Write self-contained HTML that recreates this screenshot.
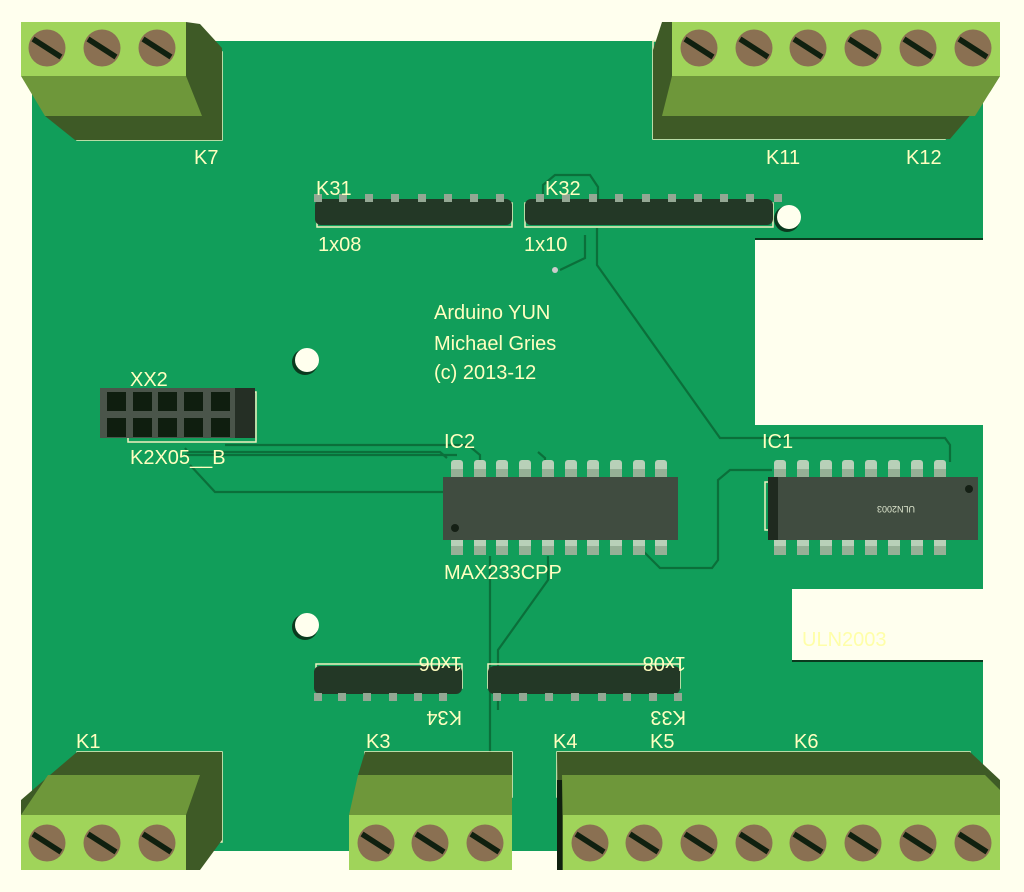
<!DOCTYPE html>
<html><head><meta charset="utf-8"><style>
html,body{margin:0;padding:0;background:#FFFFEE;}
svg{display:block}
text{font-family:"Liberation Sans",sans-serif;fill:#FFFFC0;font-size:20px}
</style></head><body>
<svg width="1024" height="892" viewBox="0 0 1024 892" xmlns="http://www.w3.org/2000/svg">
<defs>
<g id="sc"><circle r="18.5" fill="#8A7052"/><line x1="-14" y1="-9" x2="14" y2="9" stroke="#10200F" stroke-width="5.5"/></g>
<g id="pin"><rect x="-4" y="-4" width="8" height="8" fill="#94A894"/></g>
<g id="icp"><rect x="-6" y="0" width="12" height="18" rx="3" fill="#B8D0B8"/><rect x="-6" y="9" width="12" height="9" fill="#96B096"/></g>
</defs>
<rect width="1024" height="892" fill="#FFFFEE"/>
<path d="M32 41 H983 V238 H755 V425 H983 V589 H792 V661 H983 V851 H32 Z" fill="#119E5A"/>
<line x1="755" y1="239" x2="983" y2="239" stroke="#0A3A1E" stroke-width="2"/>
<line x1="792" y1="661" x2="983" y2="661" stroke="#0A3A1E" stroke-width="2"/>
<g fill="none" stroke="#0B6F3A" stroke-width="2.2">
<path d="M560 270 L585 258 L585 235"/>
<path d="M597 228 L597 265 L720 438 L945 438 L950 445 L950 462"/>
<path d="M543 200 L543 185 L555 175 L590 175 L598 187 L598 200"/>
<path d="M225 445 L468 445 L480 455 L480 462"/>
<path d="M185 455 L457 455"/>
<path d="M190 465 L215 492 L443 492"/>
<path d="M185 448 L188 452 L440 452 L447 458"/>
<path d="M642 550 L660 568 L712 568 L718 560 L718 480 L730 470 L772 470"/>
<path d="M490 556 L490 752"/>
<path d="M498 710 L498 650 L548 580 L548 556"/>
<path d="M538 452 L545 458 L545 462"/>
</g>
<circle cx="787" cy="219" r="13" fill="#0A3A1E"/><circle cx="789" cy="217" r="12" fill="#FFFFEE"/>
<circle cx="305" cy="362" r="13" fill="#0A3A1E"/><circle cx="307" cy="360" r="12" fill="#FFFFEE"/>
<circle cx="305" cy="627" r="13" fill="#0A3A1E"/><circle cx="307" cy="625" r="12" fill="#FFFFEE"/>

<rect x="77" y="52" width="145" height="88" fill="none" stroke="#F0F0C0" stroke-width="1.5"/>
<path d="M186 22 L200 24 L222 48 V140 H75 L45 116 Z" fill="#3E5A26"/>
<path d="M21 76 H186 L202 116 H45 Z" fill="#6E973A"/>
<rect x="21" y="22" width="165" height="54" fill="#A0D45A"/>
<use href="#sc" x="47" y="48"/><use href="#sc" x="102" y="48"/><use href="#sc" x="157" y="48"/>
<text x="194" y="164">K7</text>

<rect x="653" y="41" width="292" height="98" fill="none" stroke="#F0F0C0" stroke-width="1.5"/>
<path d="M662 22 H1000 V76 L990 92 L950 139 H653 V50 Z" fill="#3E5A26"/>
<path d="M672 76 H1000 L975 116 H662 Z" fill="#6E973A"/>
<rect x="672" y="22" width="328" height="54" fill="#A0D45A"/>
<g><use href="#sc" x="699" y="48"/><use href="#sc" x="754" y="48"/><use href="#sc" x="808" y="48"/><use href="#sc" x="863" y="48"/><use href="#sc" x="918" y="48"/><use href="#sc" x="973" y="48"/></g>
<text x="766" y="164">K11</text><text x="906" y="164">K12</text>

<rect x="317" y="203" width="195" height="24" fill="none" stroke="#F0F0C0" stroke-width="1.5"/>
<rect x="315" y="199" width="197" height="26" rx="6" fill="#233826"/>
<g><use href="#pin" x="318" y="198"/><use href="#pin" x="343" y="198"/><use href="#pin" x="369" y="198"/><use href="#pin" x="395" y="198"/><use href="#pin" x="422" y="198"/><use href="#pin" x="448" y="198"/><use href="#pin" x="474" y="198"/><use href="#pin" x="500" y="198"/></g>
<text x="316" y="195">K31</text><text x="318" y="251">1x08</text>
<rect x="525" y="203" width="248" height="24" fill="none" stroke="#F0F0C0" stroke-width="1.5"/>
<rect x="525" y="199" width="248" height="26" rx="6" fill="#233826"/>
<g><use href="#pin" x="540" y="198"/><use href="#pin" x="566" y="198"/><use href="#pin" x="593" y="198"/><use href="#pin" x="619" y="198"/><use href="#pin" x="646" y="198"/><use href="#pin" x="672" y="198"/><use href="#pin" x="698" y="198"/><use href="#pin" x="724" y="198"/><use href="#pin" x="750" y="198"/><use href="#pin" x="778" y="198"/></g>
<text x="545" y="195">K32</text><text x="524" y="251">1x10</text>
<circle cx="555" cy="270" r="3" fill="#CCCCCC"/>

<text x="434" y="319">Arduino YUN</text>
<text x="434" y="350">Michael Gries</text>
<text x="434" y="379">(c) 2013-12</text>

<rect x="128" y="392" width="128" height="50" fill="none" stroke="#F0F0C0" stroke-width="1.5"/>
<rect x="100" y="388" width="155" height="50" fill="#252F25"/>
<rect x="100" y="388" width="135" height="50" fill="#4A554A"/>
<g fill="#0F1E0F">
<rect x="107" y="392" width="19" height="19"/><rect x="133" y="392" width="19" height="19"/><rect x="158" y="392" width="19" height="19"/><rect x="184" y="392" width="19" height="19"/><rect x="211" y="392" width="19" height="19"/>
<rect x="107" y="418" width="19" height="19"/><rect x="133" y="418" width="19" height="19"/><rect x="158" y="418" width="19" height="19"/><rect x="184" y="418" width="19" height="19"/><rect x="211" y="418" width="19" height="19"/>
</g>
<text x="130" y="386">XX2</text><text x="130" y="464">K2X05__B</text>

<g><use href="#icp" x="457" y="460"/><use href="#icp" x="480" y="460"/><use href="#icp" x="502" y="460"/><use href="#icp" x="525" y="460"/><use href="#icp" x="548" y="460"/><use href="#icp" x="571" y="460"/><use href="#icp" x="593" y="460"/><use href="#icp" x="616" y="460"/><use href="#icp" x="639" y="460"/><use href="#icp" x="661" y="460"/></g>
<g><use href="#icp" x="457" y="537"/><use href="#icp" x="480" y="537"/><use href="#icp" x="502" y="537"/><use href="#icp" x="525" y="537"/><use href="#icp" x="548" y="537"/><use href="#icp" x="571" y="537"/><use href="#icp" x="593" y="537"/><use href="#icp" x="616" y="537"/><use href="#icp" x="639" y="537"/><use href="#icp" x="661" y="537"/></g>
<rect x="443" y="477" width="235" height="63" fill="#404C40"/>
<circle cx="455" cy="528" r="4" fill="#152015"/>
<text x="444" y="448">IC2</text><text x="444" y="579">MAX233CPP</text>

<g><use href="#icp" x="780" y="460"/><use href="#icp" x="803" y="460"/><use href="#icp" x="826" y="460"/><use href="#icp" x="848" y="460"/><use href="#icp" x="871" y="460"/><use href="#icp" x="894" y="460"/><use href="#icp" x="917" y="460"/><use href="#icp" x="940" y="460"/></g>
<g><use href="#icp" x="780" y="537"/><use href="#icp" x="803" y="537"/><use href="#icp" x="826" y="537"/><use href="#icp" x="848" y="537"/><use href="#icp" x="871" y="537"/><use href="#icp" x="894" y="537"/><use href="#icp" x="917" y="537"/><use href="#icp" x="940" y="537"/></g>
<rect x="765" y="482" width="8" height="48" fill="none" stroke="#F0F0C0" stroke-width="1.5"/>
<rect x="768" y="477" width="210" height="63" fill="#404C40"/>
<rect x="768" y="477" width="10" height="63" fill="#1F2A1F"/>
<circle cx="969" cy="489" r="4" fill="#152015"/>
<text x="955" y="514" transform="rotate(180 935 510)" style="font-size:9px;fill:#E0E8D0">ULN2003</text>
<text x="762" y="448">IC1</text>
<text x="802" y="646" style="fill:#FFFFA8">ULN2003</text>

<rect x="316" y="664" width="146" height="24" fill="none" stroke="#F0F0C0" stroke-width="1.5"/>
<rect x="314" y="666" width="148" height="28" rx="6" fill="#233826"/>
<g><use href="#pin" x="318" y="697"/><use href="#pin" x="342" y="697"/><use href="#pin" x="367" y="697"/><use href="#pin" x="393" y="697"/><use href="#pin" x="418" y="697"/><use href="#pin" x="443" y="697"/></g>
<text x="0" y="0" transform="rotate(180 440 700) translate(418 689)">K34</text>
<text x="0" y="0" transform="rotate(180 440 650) translate(418 643)">1x06</text>
<rect x="488" y="664" width="192" height="24" fill="none" stroke="#F0F0C0" stroke-width="1.5"/>
<rect x="488" y="666" width="192" height="28" rx="6" fill="#233826"/>
<g><use href="#pin" x="497" y="697"/><use href="#pin" x="523" y="697"/><use href="#pin" x="549" y="697"/><use href="#pin" x="575" y="697"/><use href="#pin" x="602" y="697"/><use href="#pin" x="627" y="697"/><use href="#pin" x="653" y="697"/><use href="#pin" x="678" y="697"/></g>
<text x="0" y="0" transform="rotate(180 664 700) translate(642 689)">K33</text>
<text x="0" y="0" transform="rotate(180 664 650) translate(642 643)">1x08</text>

<rect x="77" y="752" width="145" height="90" fill="none" stroke="#F0F0C0" stroke-width="1.5"/>
<path d="M77 752 H222 V840 L200 870 H186 V815 H21 V800 L50 775 Z" fill="#3E5A26"/>
<path d="M48 775 H200 L186 815 H21 Z" fill="#6E973A"/>
<rect x="21" y="815" width="165" height="55" fill="#A0D45A"/>
<use href="#sc" x="47" y="843"/><use href="#sc" x="102" y="843"/><use href="#sc" x="157" y="843"/>
<text x="76" y="748">K1</text>

<rect x="365" y="752" width="147" height="45" fill="none" stroke="#F0F0C0" stroke-width="1.5"/>
<path d="M365 752 H512 V775 H358 Z" fill="#3E5A26"/>
<path d="M358 775 H512 V815 H349 Z" fill="#6E973A"/>
<rect x="349" y="815" width="163" height="55" fill="#A0D45A"/>
<use href="#sc" x="376" y="843"/><use href="#sc" x="430" y="843"/><use href="#sc" x="485" y="843"/>
<text x="366" y="748">K3</text>

<rect x="557" y="752" width="413" height="45" fill="none" stroke="#F0F0C0" stroke-width="1.5"/>
<path d="M557 752 H970 L1000 780 V815 H563 V870 H558 Z" fill="#3E5A26"/>
<path d="M562 775 H985 L1000 790 V815 H563 Z" fill="#6E973A"/>
<rect x="563" y="815" width="437" height="55" fill="#A0D45A"/>
<rect x="557" y="780" width="5" height="90" fill="#10200F"/>
<g><use href="#sc" x="590" y="843"/><use href="#sc" x="644" y="843"/><use href="#sc" x="699" y="843"/><use href="#sc" x="754" y="843"/><use href="#sc" x="808" y="843"/><use href="#sc" x="863" y="843"/><use href="#sc" x="918" y="843"/><use href="#sc" x="973" y="843"/></g>
<text x="553" y="748">K4</text><text x="650" y="748">K5</text><text x="794" y="748">K6</text>
</svg>
</body></html>
